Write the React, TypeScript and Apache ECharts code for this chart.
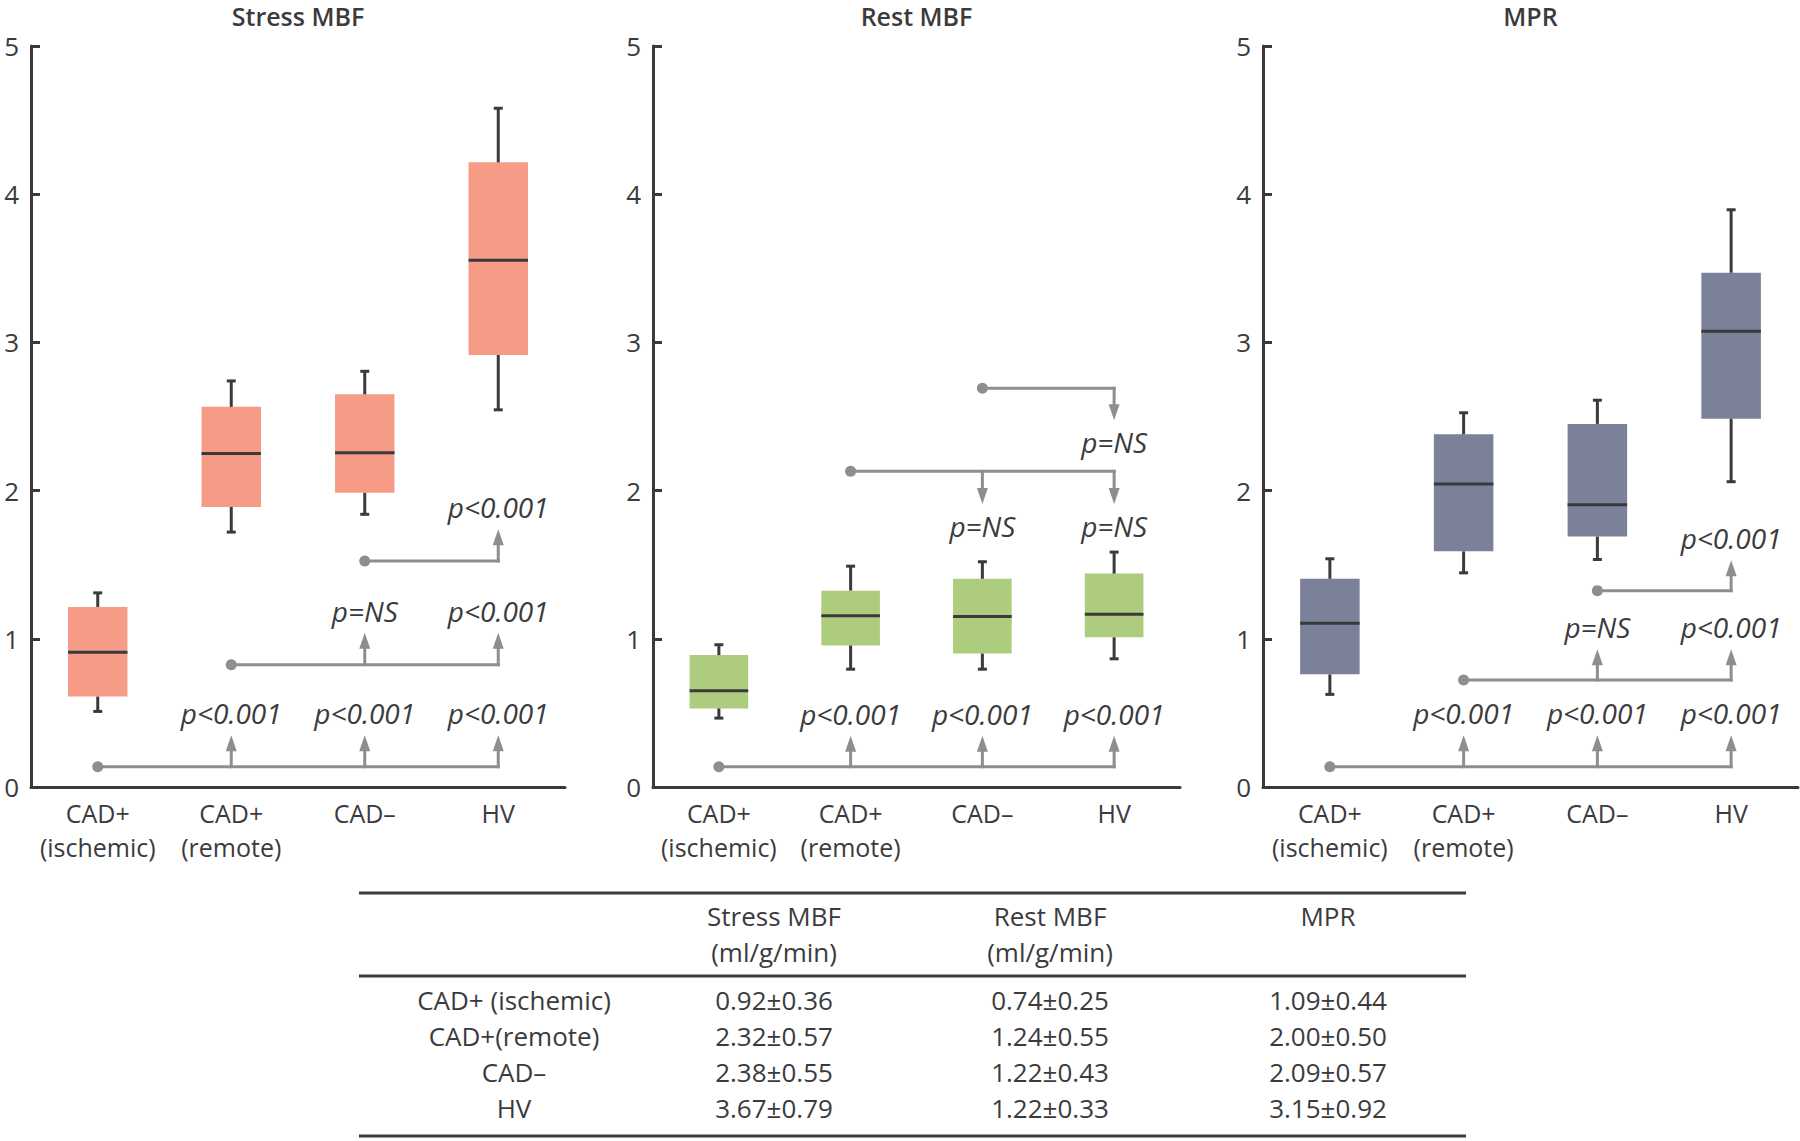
import React, { useEffect, useRef } from "react";
import * as echarts from "echarts";

// ---------- data ----------
const categories = ["CAD+\n(ischemic)", "CAD+\n(remote)", "CAD–", "HV"];
const panelTitles = ["Stress MBF", "Rest MBF", "MPR"];
const yTickMax = 5;
const yTickStep = 1;

// [low whisker, Q1, median, Q3, high whisker] per category
const stressBoxes = [
  [0.51, 0.61, 0.91, 1.215, 1.31],
  [1.72, 1.89, 2.25, 2.565, 2.74],
  [1.84, 1.985, 2.255, 2.65, 2.805],
  [2.545, 2.915, 3.555, 4.215, 4.58],
];
const restBoxes = [
  [0.465, 0.53, 0.65, 0.89, 0.96],
  [0.795, 0.955, 1.155, 1.325, 1.49],
  [0.795, 0.9, 1.15, 1.405, 1.52],
  [0.865, 1.01, 1.165, 1.44, 1.585],
];
const mprBoxes = [
  [0.625, 0.76, 1.105, 1.405, 1.54],
  [1.445, 1.59, 2.045, 2.38, 2.525],
  [1.535, 1.69, 1.905, 2.45, 2.61],
  [2.06, 2.485, 3.075, 3.47, 3.895],
];

// comparison links: from category, line level, arrow tip level, targets, labels
const stressLinks = [
  { from: 0, y: 0.137, tip: 0.35, targets: [1, 2, 3], labels: ["p<0.001", "p<0.001", "p<0.001"] },
  { from: 1, y: 0.825, tip: 1.04, targets: [2, 3], labels: ["p=NS", "p<0.001"] },
  { from: 2, y: 1.525, tip: 1.74, targets: [3], labels: ["p<0.001"] },
];
const restLinks = [
  { from: 0, y: 0.137, tip: 0.345, targets: [1, 2, 3], labels: ["p<0.001", "p<0.001", "p<0.001"] },
  { from: 1, y: 2.13, tip: 1.91, targets: [2, 3], labels: ["p=NS", "p=NS"] },
  { from: 2, y: 2.69, tip: 2.475, targets: [3], labels: ["p=NS"] },
];
const mprLinks = [
  { from: 0, y: 0.137, tip: 0.35, targets: [1, 2, 3], labels: ["p<0.001", "p<0.001", "p<0.001"] },
  { from: 1, y: 0.722, tip: 0.93, targets: [2, 3], labels: ["p=NS", "p<0.001"] },
  { from: 2, y: 1.325, tip: 1.53, targets: [3], labels: ["p<0.001"] },
];

// summary table
const tableHeaderLine1 = ["Stress MBF", "Rest MBF", "MPR"];
const tableHeaderLine2 = ["(ml/g/min)", "(ml/g/min)", ""];
const tableRowLabels = ["CAD+ (ischemic)", "CAD+(remote)", "CAD–", "HV"];
const tableStress = ["0.92±0.36", "2.32±0.57", "2.38±0.55", "3.67±0.79"];
const tableRest = ["0.74±0.25", "1.24±0.55", "1.22±0.43", "1.22±0.33"];
const tableMpr = ["1.09±0.44", "2.00±0.50", "2.09±0.57", "3.15±0.92"];

// ---------- styles ----------
const FONT = "'Open Sans', 'Noto Sans', sans-serif";
const TEXT = "#3b3b3d";
const AXIS = "#3a3a3c";
const LINK = "#8d8e92";
const boxColors = ["#f59b86", "#aecc7d", "#7a8199"];

const grids = [
  { left: 31, top: 46, width: 534, height: 741 },
  { left: 653, top: 46, width: 527, height: 741 },
  { left: 1263, top: 46, width: 535, height: 741 },
];

function boxRenderer(color: string) {
  return (params: any, api: any) => {
    const c = api.value(0);
    const x = api.coord([c, 0])[0];
    const lo = api.coord([c, api.value(1)])[1];
    const q1 = api.coord([c, api.value(2)])[1];
    const md = api.coord([c, api.value(3)])[1];
    const q3 = api.coord([c, api.value(4)])[1];
    const hi = api.coord([c, api.value(5)])[1];
    const bw = api.size([1, 0])[0] * 0.445;
    const cap = 4.5;
    const ls = { stroke: AXIS, lineWidth: 3 };
    return {
      type: "group",
      children: [
        { type: "rect", shape: { x: x - bw / 2, y: q3, width: bw, height: q1 - q3 }, style: { fill: color } },
        { type: "line", shape: { x1: x, y1: q3, x2: x, y2: hi }, style: ls },
        { type: "line", shape: { x1: x, y1: q1, x2: x, y2: lo }, style: ls },
        { type: "line", shape: { x1: x - cap, y1: hi, x2: x + cap, y2: hi }, style: ls },
        { type: "line", shape: { x1: x - cap, y1: lo, x2: x + cap, y2: lo }, style: ls },
        { type: "line", shape: { x1: x - bw / 2, y1: md, x2: x + bw / 2, y2: md }, style: ls },
      ],
    };
  };
}

function linkRenderer(rows: any[]) {
  return (params: any, api: any) => {
    const row = rows[params.dataIndex];
    const p0 = api.coord([row.from, row.y]);
    const yPx = p0[1];
    const tipPx = api.coord([row.from, row.tip])[1];
    const dir = tipPx < yPx ? -1 : 1; // -1 = arrow pointing up
    const lastX = api.coord([row.targets[row.targets.length - 1], row.y])[0];
    const ls = { stroke: LINK, lineWidth: 3 };
    const children: any[] = [
      { type: "line", shape: { x1: p0[0], y1: yPx, x2: lastX + 1.5, y2: yPx }, style: ls },
      { type: "circle", shape: { cx: p0[0], cy: yPx, r: 5.5 }, style: { fill: LINK } },
    ];
    row.targets.forEach((t: number, i: number) => {
      const x = api.coord([t, row.y])[0];
      const head = 16;
      children.push({
        type: "line",
        shape: { x1: x, y1: yPx - dir * 1.5, x2: x, y2: tipPx - dir * head + dir * 2 },
        style: ls,
      });
      children.push({
        type: "polygon",
        shape: { points: [[x, tipPx], [x - 5.5, tipPx - dir * head], [x + 5.5, tipPx - dir * head]] },
        style: { fill: LINK },
      });
      children.push({
        type: "text",
        x: x,
        y: tipPx + dir * 22,
        style: {
          text: row.labels[i],
          font: `italic 28px ${FONT}`,
          fill: TEXT,
          align: "center",
          verticalAlign: "middle",
          textAlign: "center",
          textVerticalAlign: "middle",
        },
      });
    });
    return { type: "group", children };
  };
}

function txt(text: string, x: number, y: number, font: string) {
  return {
    type: "text",
    x,
    y,
    style: {
      text,
      font,
      fill: TEXT,
      align: "center",
      verticalAlign: "middle",
      textAlign: "center",
      textVerticalAlign: "middle",
    },
  };
}

export default function App() {
  const ref = useRef<HTMLDivElement>(null);
  useEffect(() => {
    if (!ref.current) return;
    const chart = echarts.init(ref.current, undefined, { renderer: "svg" });
    const boxSets = [stressBoxes, restBoxes, mprBoxes];
    const linkSets = [stressLinks, restLinks, mprLinks];

    const series: any[] = [];
    boxSets.forEach((boxes, gi) => {
      series.push({
        type: "custom",
        xAxisIndex: gi,
        yAxisIndex: gi,
        renderItem: boxRenderer(boxColors[gi]),
        encode: { x: 0, y: [1, 2, 3, 4, 5] },
        data: boxes.map((b, i) => [i, ...b]),
        silent: true,
      });
      series.push({
        type: "custom",
        xAxisIndex: gi,
        yAxisIndex: gi,
        renderItem: linkRenderer(linkSets[gi]),
        encode: { x: 0, y: [1, 2] },
        data: linkSets[gi].map((r) => [r.from, r.y, r.tip]),
        silent: true,
        clip: false,
      });
    });

    const graphic: any[] = [];
    grids.forEach((g, gi) => {
      graphic.push(txt(panelTitles[gi], g.left + g.width / 2, 16, `600 25px ${FONT}`));
    });
    // table
    const tL = 359, tR = 1466;
    [893, 976, 1136].forEach((y) => {
      graphic.push({ type: "line", shape: { x1: tL, y1: y, x2: tR, y2: y }, style: { stroke: AXIS, lineWidth: 3 } });
    });
    const colX = [774, 1050, 1328];
    const rowLabelX = 514;
    const rowY = [1000, 1036, 1072, 1108];
    const tf = `26px ${FONT}`;
    tableHeaderLine1.forEach((h, i) => graphic.push(txt(h, colX[i], 916, tf)));
    tableHeaderLine2.forEach((h, i) => { if (h) graphic.push(txt(h, colX[i], 952, tf)); });
    tableRowLabels.forEach((r, i) => {
      graphic.push(txt(r, rowLabelX, rowY[i], tf));
      graphic.push(txt(tableStress[i], colX[0], rowY[i], tf));
      graphic.push(txt(tableRest[i], colX[1], rowY[i], tf));
      graphic.push(txt(tableMpr[i], colX[2], rowY[i], tf));
    });

    chart.setOption({
      animation: false,
      backgroundColor: "#ffffff",
      grid: grids,
      xAxis: grids.map((_, gi) => ({
        type: "category",
        gridIndex: gi,
        data: categories,
        boundaryGap: true,
        axisLine: { show: true, lineStyle: { color: AXIS, width: 3 } },
        axisTick: { show: false },
        axisLabel: { interval: 0, fontSize: 25, lineHeight: 34, margin: 9, color: TEXT, fontFamily: FONT },
        splitLine: { show: false },
      })),
      yAxis: grids.map((_, gi) => ({
        type: "value",
        gridIndex: gi,
        min: 0,
        max: yTickMax,
        interval: yTickStep,
        axisLine: { show: true, lineStyle: { color: AXIS, width: 3 } },
        axisTick: { show: true, inside: true, length: 9, lineStyle: { color: AXIS, width: 3 } },
        axisLabel: { fontSize: 26, margin: 12, color: TEXT, fontFamily: FONT },
        splitLine: { show: false },
      })),
      series,
      graphic,
    });
    return () => chart.dispose();
  }, []);
  return <div ref={ref} style={{ position: "absolute", left: 0, top: 0, width: 1800, height: 1141 }} />;
}
